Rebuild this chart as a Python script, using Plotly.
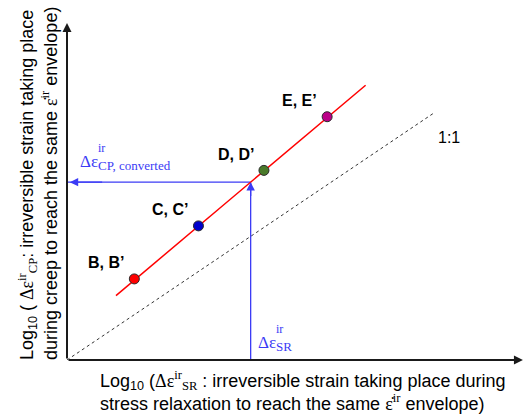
import plotly.graph_objects as go

# Schematic data (log10 units, arbitrary scale)
point_labels = ["B, B’", "C, C’", "D, D’", "E, E’"]
sr_points = [1.47, 2.87, 4.30, 5.68]     # log10 Δε_SR^ir
cp_points = [2.63, 4.35, 6.15, 7.89]     # log10 Δε_CP^ir
point_colors = ["#FF0000", "#0000CC", "#4A7A2A", "#BB0088"]

fit_sr = [1.07, 6.52]
fit_cp = [2.09, 8.91]

one_to_one = [0.0, 8.03]

sr_value = 4.01
slope = (fit_cp[1] - fit_cp[0]) / (fit_sr[1] - fit_sr[0])
cp_converted = fit_cp[0] + slope * (sr_value - fit_sr[0])

x_max = 10.0
y_max = 10.93

SERIF = "Liberation Serif"
SANS = "Liberation Sans, Arial, sans-serif"
BLUE = "#3B3BF5"


def serif(s):
    return f"<span style='font-family:{SERIF}'>{s}</span>"


fig = go.Figure()

# 1:1 reference line
fig.add_trace(go.Scatter(
    x=one_to_one, y=one_to_one, mode="lines",
    line=dict(color="#333333", width=1, dash="3px,3px"),
    hoverinfo="skip", showlegend=False))

# Conversion guide lines
fig.add_trace(go.Scatter(
    x=[sr_value, sr_value], y=[0, cp_converted], mode="lines",
    line=dict(color=BLUE, width=1.3), hoverinfo="skip", showlegend=False))
fig.add_trace(go.Scatter(
    x=[sr_value, 0], y=[cp_converted, cp_converted], mode="lines",
    line=dict(color=BLUE, width=1.3), hoverinfo="skip", showlegend=False))

# Fitted relation
fig.add_trace(go.Scatter(
    x=fit_sr, y=fit_cp, mode="lines",
    line=dict(color="#FF0000", width=1.5),
    hoverinfo="skip", showlegend=False))

# Test points
fig.add_trace(go.Scatter(
    x=sr_points, y=cp_points, mode="markers",
    marker=dict(size=10, color=point_colors,
                line=dict(color="#2A2A2A", width=1)),
    showlegend=False))

annotations = []

# Axes drawn as arrows
annotations.append(dict(x=x_max * 0.9955, y=0, ax=0, ay=0, xref="x", yref="y",
                        axref="x", ayref="y", showarrow=True, arrowhead=2,
                        arrowsize=0.9, arrowwidth=2, arrowcolor="#1A1A1A", text=""))
annotations.append(dict(x=0, y=y_max, ax=0, ay=0, xref="x", yref="y",
                        axref="x", ayref="y", showarrow=True, arrowhead=2,
                        arrowsize=0.9, arrowwidth=2, arrowcolor="#1A1A1A", text=""))

# Blue arrowheads
annotations.append(dict(x=sr_value, y=cp_converted, ax=sr_value, ay=cp_converted - 0.5,
                        xref="x", yref="y", axref="x", ayref="y", showarrow=True,
                        arrowhead=2, arrowsize=1.3, arrowwidth=1.3,
                        arrowcolor=BLUE, text=""))
annotations.append(dict(x=0.06, y=cp_converted, ax=0.8, ay=cp_converted,
                        xref="x", yref="y", axref="x", ayref="y", showarrow=True,
                        arrowhead=2, arrowsize=1.3, arrowwidth=1.3,
                        arrowcolor=BLUE, text=""))

# Point labels
for sx, cy, lab in zip(sr_points, cp_points, point_labels):
    annotations.append(dict(x=sx, y=cy, xref="x", yref="y", text=f"<b>{lab}</b>",
                            showarrow=False, xshift=-28, yshift=16,
                            font=dict(family=SANS, size=16, color="#000000")))

# 1:1 label
annotations.append(dict(x=one_to_one[1], y=one_to_one[1], xref="x", yref="y",
                        text="1:1", showarrow=False, xshift=14, yshift=-25,
                        font=dict(family=SANS, size=16, color="#000000")))


# Blue labels (stacked super/subscripts)
def blue_symbol(x, y, sub, xs, ys):
    annotations.append(dict(x=x, y=y, xref="x", yref="y", text="Δε",
                            showarrow=False, xanchor="left", xshift=xs, yshift=ys,
                            font=dict(family=SERIF, size=17, color=BLUE)))
    annotations.append(dict(x=x, y=y, xref="x", yref="y", text="ir",
                            showarrow=False, xanchor="left", xshift=xs + 18, yshift=ys + 13,
                            font=dict(family=SERIF, size=12, color=BLUE)))
    annotations.append(dict(x=x, y=y, xref="x", yref="y", text=sub,
                            showarrow=False, xanchor="left", xshift=xs + 18, yshift=ys - 4,
                            font=dict(family=SERIF, size=13, color=BLUE)))


blue_symbol(0, cp_converted, "CP, converted", 11, 21)
blue_symbol(sr_value, 0, "SR", 5, 18)

# Axis titles
x_title = ("Log<sub>10</sub> (" + serif("Δε<sup>ir</sup><sub>SR</sub>")
           + " : irreversible strain taking place during<br>"
           "stress relaxation to reach the same " + serif("ε̇<sup>ir</sup>") + " envelope)")
annotations.append(dict(x=0.0677, y=-0.092, xref="paper", yref="paper", text=x_title,
                        showarrow=False, xanchor="left", yanchor="middle", align="left",
                        font=dict(family=SANS, size=18, color="#000000")))

y_title = ("Log<sub>10</sub> ( " + serif("Δε<sup>ir</sup><sub>CP</sub>")
           + ": irreversible strain taking place<br>"
           "during creep to reach the same " + serif("ε̇<sup>ir</sup>") + " envelope)")
annotations.append(dict(x=-0.0633, y=0.522, xref="paper", yref="paper", text=y_title,
                        showarrow=False, textangle=-90, xanchor="center",
                        yanchor="middle", align="left",
                        font=dict(family=SANS, size=18, color="#000000")))

fig.update_layout(
    width=526, height=417,
    margin=dict(l=67, r=1, t=23, b=57),
    paper_bgcolor="white", plot_bgcolor="white",
    xaxis=dict(range=[0, x_max], visible=False, fixedrange=True),
    yaxis=dict(range=[0, y_max], visible=False, fixedrange=True),
    annotations=annotations,
    showlegend=False,
)

fig.write_html("out.html")
